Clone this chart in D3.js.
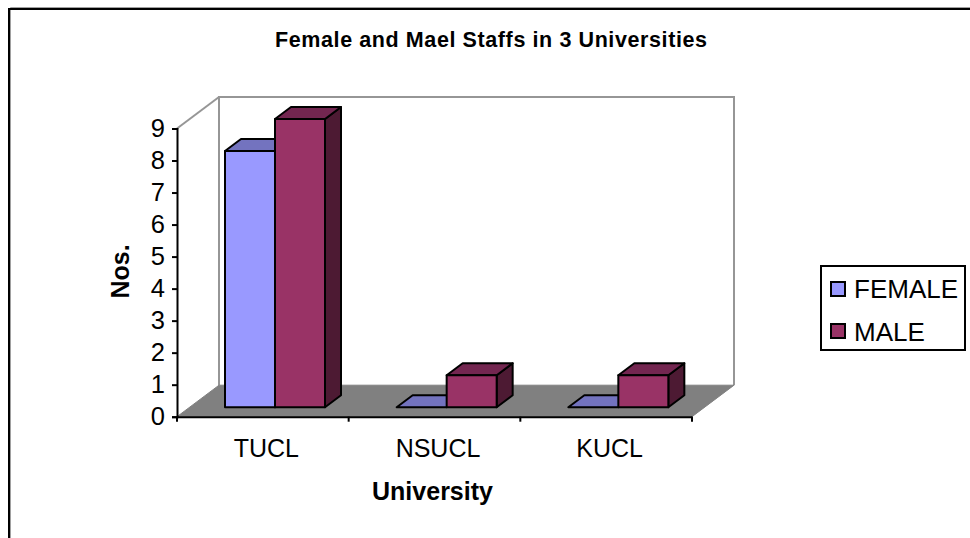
<!DOCTYPE html>
<html><head><meta charset="utf-8">
<style>html,body{margin:0;padding:0;background:#fff}svg{display:block}text{font-family:"Liberation Sans",Arial,sans-serif;fill:#000}</style>
<script src="https://cdn.jsdelivr.net/npm/d3@7/dist/d3.min.js"></script>
</head><body><svg id="c" width="970" height="538"></svg>
<script>
const title = "Female and Mael Staffs in 3 Universities";
const categories = ["TUCL","NSUCL","KUCL"];
const seriesNames = ["FEMALE","MALE"];
const female = [8,0,0];
const male = [9,1,1];
const yTicks = [0,1,2,3,4,5,6,7,8,9];
const colors = {FEMALE:["#9999ff","#7373bf","#4d4d80"],MALE:["#993366","#732650","#4d1a33"]};

const svg = d3.select("#c");
const W = 970, H = 538;
svg.append("rect").attr("width",W).attr("height",H).attr("fill","#fff");
// outer chart frame
svg.append("path").attr("d","M10.5,538V7.5H970").attr("fill","none").attr("stroke","#a0a0a0").attr("stroke-width",1);
svg.append("path").attr("d","M9,538V9H970").attr("fill","none").attr("stroke","#000").attr("stroke-width",2);

const x = d3.scaleBand().domain(categories).range([177,692]);
const y = d3.scaleLinear().domain([0,9]).range([416.7,128.5]);
const depthX = 42, depthY = 31.5;
const barDX = 16, barDY = 12;
const barInsetX = 48, barLift = 9.5;
const barW = 50;

// back walls
const wall = "#969696";
const backL = x.range()[0]+depthX, backR = x.range()[1]+depthX, backT = y(9)-depthY, backB = y(0)-depthY;
svg.append("path").attr("d",`M${backL},${backB}V${backT}H${backR}V${backB}`).attr("fill","none").attr("stroke",wall).attr("stroke-width",2);
svg.append("path").attr("d",`M${x.range()[0]},${y(9)}L${backL},${backT}`).attr("fill","none").attr("stroke",wall).attr("stroke-width",2);
// floor
svg.append("path").attr("d",`M${x.range()[0]},${y(0)}L${backL},${backB}H${backR}L${x.range()[1]},${y(0)}Z`).attr("fill","#808080").attr("stroke","#808080").attr("stroke-width",1);

// bars
const pts = a => a.map(p=>p.join(",")).join(" ");
function bar(x0, v, c){
  const x1 = x0+barW, b = y(0)-barLift, t = b-(y(0)-y(v));
  const g = svg.append("g").attr("stroke","#000").attr("stroke-width",2).attr("stroke-linejoin","round");
  if(v>0){
    g.append("polygon").attr("points",pts([[x1,b],[x1+barDX,b-barDY],[x1+barDX,t-barDY],[x1,t]])).attr("fill",c[2]);
  }
  g.append("polygon").attr("points",pts([[x0,t],[x0+barDX,t-barDY],[x1+barDX,t-barDY],[x1,t]])).attr("fill",c[1]);
  if(v>0) g.append("rect").attr("x",x0).attr("y",t).attr("width",barW).attr("height",b-t).attr("fill",c[0]);
}
categories.forEach((cat,i)=>{
  const x0 = x(cat)+barInsetX;
  bar(x0,female[i],colors.FEMALE);
  bar(x0+barW,male[i],colors.MALE);
});

// axes
const yAxis = d3.axisLeft(y).tickValues(yTicks).tickFormat(d3.format("d")).tickSize(5).tickPadding(7);
const gy = svg.append("g").attr("transform","translate(177,0)").call(yAxis);
const xAxis = d3.axisBottom(x).tickValues([]).tickSizeOuter(0);
const gx = svg.append("g").attr("transform",`translate(0,${y(0)})`).call(xAxis);
const xTickPos = [0,1,2,3].map(i=>x.range()[0]+i*x.step());
gx.selectAll("line.t").data(xTickPos).enter().append("line").attr("class","t").attr("x1",d=>d).attr("x2",d=>d).attr("y1",0).attr("y2",5).attr("stroke","#000").attr("stroke-width",2);
gx.selectAll("text.c").data(categories).enter().append("text").attr("class","c").attr("x",d=>x(d)+x.bandwidth()/2+3.5).attr("y",40).attr("text-anchor","middle").attr("font-size",25).text(d=>d);
[gy,gx].forEach(g=>g.selectAll(".domain,.tick line").attr("stroke","#000").attr("stroke-width",2));
gy.selectAll("text").attr("font-size",25.5).attr("font-family",'"Liberation Sans",Arial,sans-serif');

// titles
svg.append("text").attr("x",491).attr("y",47).attr("text-anchor","middle").attr("font-size",21.5).attr("font-weight","bold").attr("textLength",432).attr("lengthAdjust","spacing").text(title);
svg.append("text").attr("x",432.5).attr("y",500).attr("text-anchor","middle").attr("font-size",25).attr("font-weight","bold").text("University");
svg.append("text").attr("transform","translate(129,271.5) rotate(-90)").attr("text-anchor","middle").attr("font-size",25).attr("font-weight","bold").text("Nos.");

// legend
svg.append("rect").attr("x",821).attr("y",266).attr("width",144).attr("height",84).attr("fill","#fff").attr("stroke","#000").attr("stroke-width",2);
seriesNames.forEach((n,i)=>{
  const cy = 289+i*42;
  svg.append("rect").attr("x",831).attr("y",cy-7).attr("width",14).attr("height",14).attr("fill",colors[n][0]).attr("stroke","#000").attr("stroke-width",2);
  svg.append("text").attr("x",854).attr("y",cy+9+i).attr("font-size",26).text(n);
});
</script></body></html>
